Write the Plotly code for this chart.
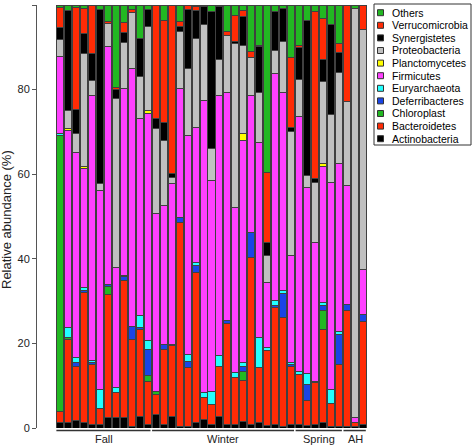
import plotly.graph_objects as go

# ---- data (relative abundance %, one value per sample, bottom-to-top stacking order) ----
samples = [f"S{i+1}" for i in range(39)]
groups = ["Fall", "Winter", "Spring", "AH"]
group_sizes = [12, 18, 6, 3]

actinobacteria = [1.4, 1.4, 1.7, 1.4, 0.9, 0.9, 2.5, 2.4, 2.4, 0.4, 2.8, 0.8,
                  3.2, 0.8, 2.8, 0.3, 0.4, 1.2, 2.0, 0.8, 2.8, 0.8, 0.8, 1.6, 0.8, 1.2, 0.5, 0.8, 0.4, 0.8,
                  0.8, 0.5, 0.8, 1.2, 0.4, 0.4,
                  0.4, 0.4, 0.8]
bacteroidetes = [2.4, 19.5, 12.9, 30.6, 14.1, 3.8, 29.1, 5.9, 32.4, 20.5, 20.5, 10.3,
                 4.7, 17.8, 16.6, 48.3, 13.8, 35.6, 5.1, 4.7, 11.8, 23.9, 11.1, 9.6, 39.5, 13.0, 17.8, 27.8, 25.7, 13.7,
                 11.8, 6.0, 9.9, 22.1, 5.3, 14.5,
                 27.3, 1.0, 24.3]
chloroplast = [65.4, 0.4, 0, 0, 0, 0, 1.8, 0, 0, 0, 0, 1.2,
               0.8, 0, 0, 0, 0, 0, 0, 0, 0, 0, 0, 2.2, 0, 0, 0, 0, 0, 0,
               0, 0, 0, 4.5, 0, 0,
               0, 0, 0]
deferribacteres = [0, 0, 0.8, 0.6, 0.4, 0, 0.6, 0.2, 0.9, 3.2, 0.4, 6.3,
                   0, 1.2, 0.4, 1.2, 1.6, 1.5, 0, 0, 0, 0.8, 0, 1.2, 5.9, 0, 0, 0.3, 5.8, 0.4,
                   0, 3.9, 0.4, 1.1, 0, 7.2,
                   1.4, 0, 1.8]
euryarchaeota = [0.5, 2.4, 1.2, 0.6, 0.6, 4.4, 0, 1.1, 0.3, 0, 2.8, 2.0,
                 0, 0, 0, 0, 1.6, 0.8, 1.2, 3.2, 2.6, 0, 1.3, 0.8, 0, 7.3, 0.7, 1.3, 0.7, 0.5,
                 0.8, 2.6, 0, 0.7, 3.4, 0.8,
                 0, 0, 0]
firmicutes = [18.2, 46.7, 48.6, 28.1, 62.7, 47.0, 56.1, 28.3, 44.2, 60.9, 46.6, 53.7,
              41.9, 32.8, 38.1, 30.4, 51.8, 32.0, 69.2, 49.8, 61.5, 53.9, 39.0, 52.6, 32.5, 46.1, 15.4, 53.6, 46.6, 25.3,
              60.3, 43.8, 32.8, 32.2, 49.0, 39.7,
              28.2, 1.0, 10.6]
planctomycetes = [0, 0.4, 0, 0.5, 0, 0, 0, 0, 0, 0, 0, 0.8,
                  0, 0, 0, 0, 0, 0, 0, 0, 0, 0, 0, 1.6, 0, 0, 0, 0, 0, 0,
                  0, 0, 0, 0.7, 0, 0,
                  0, 0, 0]
proteobacteria = [4.0, 4.2, 4.4, 26.7, 3.5, 1.8, 5.6, 40.0, 11.0, 13.2, 9.9, 19.8,
                  20.2, 15.4, 1.4, 13.5, 15.8, 21.0, 17.8, 7.5, 8.3, 13.5, 38.7, 20.9, 9.0, 11.8, 6.3, 5.5, 12.1, 29.3,
                  8.8, 2.9, 14.2, 19.3, 16.1, 21.4,
                  19.8, 96.8, 56.6]
synergistetes = [2.8, 23.8, 5.6, 4.8, 6.3, 41.0, 0, 2.1, 2.3, 0, 9.1, 4.1,
                 2.3, 4.3, 0.8, 1.2, 14.0, 6.7, 4.3, 32.4, 12.6, 0, 0.4, 6.7, 0, 10.7, 3.2, 9.1, 7.9, 1.1,
                 7.5, 36.7, 1.0, 5.3, 21.3, 4.7,
                 0, 0, 0]
verrucomicrobia = [4.7, 0, 24.2, 5.9, 11.5, 0, 0.4, 0.5, 2.3, 0.8, 0, 0,
                   26.9, 24.1, 39.9, 1.1, 1.0, 0.8, 0, 0, 0, 0.8, 6.3, 1.4, 1.2, 0.4, 16.6, 0, 0, 16.5,
                   0.5, 0, 39.3, 9.7, 0, 2.2,
                   22.7, 0, 5.9]
others = [0.6, 1.2, 0.6, 0.8, 0, 1.1, 3.9, 19.5, 4.2, 1.0, 7.9, 1.0,
          0, 3.6, 0, 4.0, 0, 0.4, 0.4, 1.6, 0.4, 6.3, 2.4, 1.4, 11.1, 9.5, 39.5, 1.6, 0.8, 12.4,
          9.5, 3.6, 1.6, 3.2, 4.5, 9.1,
          0.2, 0.8, 0]

series = [
    ("Actinobacteria", actinobacteria, "#000000"),
    ("Bacteroidetes", bacteroidetes, "#ff2b05"),
    ("Chloroplast", chloroplast, "#22b822"),
    ("Deferribacteres", deferribacteres, "#1a44e6"),
    ("Euryarchaeota", euryarchaeota, "#22ffff"),
    ("Firmicutes", firmicutes, "#ff40ff"),
    ("Planctomycetes", planctomycetes, "#ffff00"),
    ("Proteobacteria", proteobacteria, "#c0c0c0"),
    ("Synergistetes", synergistetes, "#000000"),
    ("Verrucomicrobia", verrucomicrobia, "#ff2b05"),
    ("Others", others, "#22b822"),
]

FONT = "Liberation Sans, Arial, sans-serif"
xpos = list(range(len(samples)))

fig = go.Figure()
for name, vals, col in series:
    fig.add_trace(go.Bar(
        x=xpos, y=[v if v > 0 else None for v in vals], name=name,
        marker=dict(color=col, line=dict(color="#404040", width=1)),
        showlegend=False, hovertext=samples,
    ))

shapes = []
annotations = []

# group brackets and labels
start = 0
for g, n in zip(groups, group_sizes):
    end = start + n - 1
    shapes.append(dict(type="line", xref="x", yref="paper",
                       x0=start - 0.45, x1=end + 0.35, y0=-0.006, y1=-0.006,
                       line=dict(color="#333333", width=1.5)))
    annotations.append(dict(text=g, xref="x", yref="paper", x=(start + end) / 2,
                            y=-0.026, showarrow=False, yanchor="middle",
                            font=dict(family=FONT, size=11, color="#222222")))
    start = end + 1

# manual legend (top entry = top of the stack)
L, T, B_ = 37, 5, 428
W = 472 - 37 - 105
H = B_ - T
def px2x(p): return (p - L) / W
def py2y(p): return (B_ - p) / H

shapes.append(dict(type="rect", xref="paper", yref="paper",
                   x0=px2x(374), x1=px2x(471), y0=py2y(4), y1=py2y(145),
                   line=dict(color="#333333", width=1), fillcolor="white", layer="above"))
for k, (name, vals, col) in enumerate(reversed(series)):
    cy = 12.7 + 12.6 * k
    shapes.append(dict(type="rect", xref="paper", yref="paper",
                       x0=px2x(377.5), x1=px2x(383.5), y0=py2y(cy + 3), y1=py2y(cy - 3),
                       line=dict(color="#333333", width=1), fillcolor=col, layer="above"))
    annotations.append(dict(text=name, xref="paper", yref="paper", x=px2x(389.5), y=py2y(cy),
                            xanchor="left", yanchor="middle", showarrow=False,
                            font=dict(family=FONT, size=10.5, color="#000000")))

# y-axis title drawn as rotated annotation so its position is exact
annotations.append(dict(text="Relative abundance (%)", xref="paper", yref="paper",
                        x=px2x(7), y=py2y(220), textangle=-90, showarrow=False,
                        xanchor="center", yanchor="middle",
                        font=dict(family=FONT, size=13, color="#222222")))

fig.update_layout(
    width=472, height=446,
    margin=dict(l=37, r=105, t=5, b=18),
    barmode="stack", bargap=0.12,
    plot_bgcolor="white", paper_bgcolor="white",
    showlegend=False,
    xaxis=dict(range=[-2.88, 38.5], showticklabels=False, ticks="", showgrid=False,
               zeroline=False, showline=False),
    yaxis=dict(range=[0, 100], tickvals=[0, 20, 40, 60, 80, 100], ticks="outside", ticklen=4,
               tickcolor="#555555", showline=True, linecolor="#555555", linewidth=1,
               showgrid=False, zeroline=False,
               tickfont=dict(family=FONT, size=11, color="#222222")),
    shapes=shapes, annotations=annotations,
)

fig.write_html("out.html", config={"displayModeBar": False},
               post_script="document.body.style.margin='0';document.body.style.overflow='hidden';")
